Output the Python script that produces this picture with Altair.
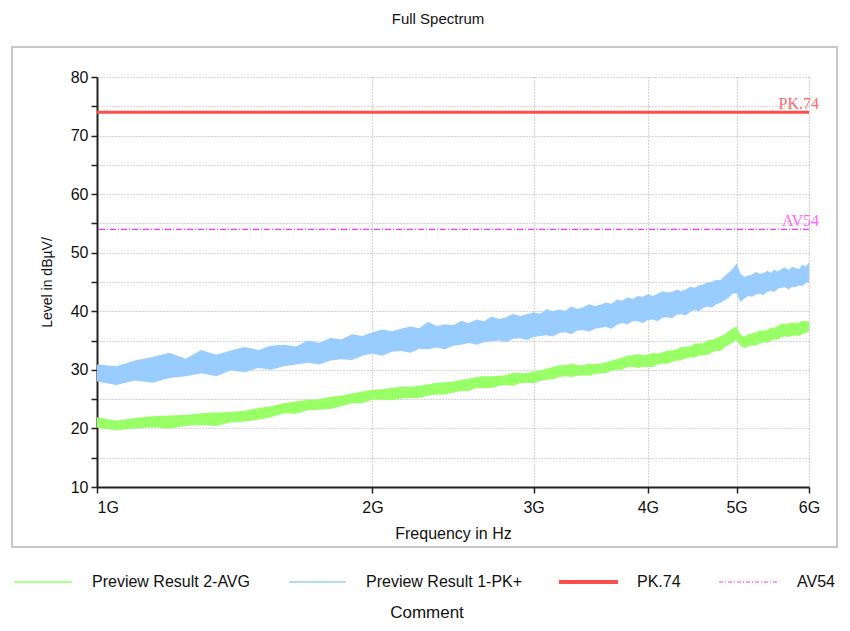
import altair as alt
import pandas as pd

# ---------------- data ----------------
freq_ghz = [1.00, 1.05, 1.10, 1.15, 1.20, 1.25, 1.30, 1.35, 1.40, 1.45,
            1.50, 1.55, 1.60, 1.65, 1.70, 1.75, 1.80, 1.85, 1.90, 1.95,
            2.00, 2.05, 2.10, 2.15, 2.20, 2.25, 2.30, 2.35, 2.40, 2.45,
            2.50, 2.55, 2.60, 2.65, 2.70, 2.75, 2.80, 2.85, 2.90, 2.95,
            3.00, 3.05, 3.10, 3.15, 3.20, 3.25, 3.30, 3.35, 3.40, 3.45,
            3.50, 3.55, 3.60, 3.65, 3.70, 3.75, 3.80, 3.85, 3.90, 3.95,
            4.00, 4.05, 4.10, 4.15, 4.20, 4.25, 4.30, 4.35, 4.40, 4.45,
            4.50, 4.55, 4.60, 4.65, 4.70, 4.75, 4.80, 4.85, 4.90, 4.95,
            5.00, 5.05, 5.10, 5.15, 5.20, 5.25, 5.30, 5.35, 5.40, 5.45,
            5.50, 5.55, 5.60, 5.65, 5.70, 5.75, 5.80, 5.85, 5.90, 5.95,
            6.00]

# Preview Result 1-PK+ (lower / upper edge of the noisy trace, dBuV)
pk_low = [28.0, 27.4, 28.2, 27.8, 28.6, 28.9, 29.4, 28.9, 29.9, 29.6,
          30.3, 30.0, 30.6, 30.9, 31.2, 30.9, 31.6, 31.8, 31.7, 32.4,
          32.8, 32.4, 33.1, 33.2, 32.9, 33.6, 33.5, 33.8, 33.5, 34.1,
          34.3, 34.6, 34.3, 34.7, 34.9, 35.0, 34.7, 35.3, 35.4, 35.1,
          35.6, 35.8, 35.9, 35.7, 36.3, 36.4, 36.1, 36.7, 36.8, 36.5,
          37.0, 37.2, 37.3, 37.0, 37.7, 38.0, 37.8, 38.3, 38.3, 38.0,
          38.5, 38.6, 38.3, 38.9, 39.0, 38.8, 39.4, 39.5, 39.3, 39.9,
          40.2, 40.0, 40.6, 40.8, 40.6, 41.2, 41.4, 41.9, 42.3, 43.0,
          43.1, 41.6, 42.2, 42.6, 42.5, 42.9, 43.0, 42.8, 43.3, 43.5,
          43.3, 43.9, 44.0, 44.1, 43.7, 44.2, 44.1, 44.4, 44.3, 44.8,
          45.0]
pk_high = [30.9, 30.6, 31.6, 32.2, 32.9, 31.9, 33.4, 32.6, 33.3, 33.9,
           33.4, 34.1, 34.3, 34.0, 35.0, 34.6, 35.5, 35.2, 36.1, 35.8,
           36.4, 36.9, 36.6, 37.0, 37.4, 37.1, 38.2, 37.5, 37.8, 37.6,
           38.4, 38.0, 38.6, 38.3, 39.1, 38.7, 39.0, 39.6, 39.2, 39.5,
           39.8, 39.6, 40.4, 40.0, 40.3, 40.1, 40.8, 40.4, 40.7, 41.2,
           40.9, 41.1, 41.5, 41.3, 42.0, 41.8, 42.4, 42.1, 42.6, 42.5,
           42.9, 42.6, 43.0, 43.4, 43.2, 43.3, 43.7, 43.4, 43.7, 44.2,
           44.0, 44.4, 44.6, 44.9, 45.0, 45.4, 45.3, 46.0, 46.6, 47.2,
           48.2, 46.4, 45.9, 46.1, 46.3, 46.7, 46.4, 46.5, 46.9, 46.6,
           47.1, 46.8, 47.2, 47.5, 47.0, 47.6, 47.4, 47.2, 48.0, 47.6,
           48.4]

# Preview Result 2-AVG (lower / upper edge of the trace, dBuV)
avg_low = [20.1, 19.7, 20.0, 20.2, 20.0, 20.4, 20.6, 20.4, 21.0, 21.2,
           21.5, 21.9, 22.6, 22.5, 23.1, 23.2, 23.3, 23.8, 24.3, 24.3,
           24.9, 24.9, 24.8, 25.1, 25.2, 25.2, 25.6, 25.8, 25.8, 26.1,
           26.4, 26.4, 26.9, 26.9, 26.9, 27.3, 27.4, 27.3, 27.7, 27.8,
           27.7, 28.1, 28.3, 28.4, 28.8, 28.9, 28.8, 29.0, 29.1, 29.0,
           29.3, 29.4, 29.4, 29.8, 30.0, 30.0, 30.5, 30.5, 30.3, 30.5,
           30.5, 30.5, 30.9, 31.1, 31.0, 31.4, 31.6, 31.6, 32.0, 32.1,
           32.1, 32.4, 32.5, 32.6, 33.0, 33.2, 33.2, 33.8, 34.3, 34.6,
           35.1, 34.1, 33.7, 34.0, 34.2, 34.1, 34.5, 34.7, 34.6, 35.0,
           35.2, 35.2, 35.6, 35.7, 35.6, 35.8, 35.9, 35.8, 36.1, 36.3,
           36.5]
avg_high = [21.9, 21.3, 21.8, 22.1, 22.2, 22.3, 22.6, 22.7, 22.8, 23.0,
            23.5, 23.8, 24.3, 24.6, 24.9, 25.0, 25.4, 25.6, 26.0, 26.3,
            26.6, 26.7, 26.9, 27.1, 27.1, 27.3, 27.5, 27.8, 27.9, 28.0,
            28.3, 28.5, 28.8, 28.9, 28.9, 29.0, 29.1, 29.5, 29.4, 29.5,
            29.7, 29.9, 30.2, 30.5, 30.8, 30.8, 31.1, 30.8, 30.8, 31.1,
            31.0, 31.1, 31.3, 31.6, 31.8, 32.1, 32.4, 32.5, 32.7, 32.5,
            32.6, 32.9, 32.8, 33.0, 33.3, 33.3, 33.5, 33.9, 33.9, 34.0,
            34.5, 34.5, 34.6, 35.1, 35.1, 35.4, 35.8, 36.0, 36.6, 37.1,
            37.4, 36.0, 35.7, 36.1, 36.2, 36.4, 36.7, 36.7, 36.8, 37.2,
            37.2, 37.5, 37.9, 37.8, 37.9, 38.1, 38.0, 38.1, 38.4, 38.3,
            38.3]

limit_names = ["PK.74", "AV54"]
limit_values = [74, 54]
limit_tags = ["PK.74", "AV54"]

legend_labels = ["Preview Result 2-AVG", "Preview Result 1-PK+", "PK.74", "AV54"]
chart_title = "Full Spectrum"
footer_text = "Comment"

y_ticks = [10, 15, 20, 25, 30, 35, 40, 45, 50, 55, 60, 65, 70, 75, 80]
x_ticks = [1, 2, 3, 4, 5, 6]

# ---------------- layout / style ----------------
W, H = 712, 410
PAD = {"left": 89, "top": 69, "right": 33, "bottom": 136}
FONT = "Liberation Sans"

C_PK = "#99CCFF"
C_AVG = "#99FF66"
C_PKLIM = "#FF4D4D"
C_AVLIM = "#FF33FF"

traces = pd.DataFrame({"f": freq_ghz, "pk_lo": pk_low, "pk_hi": pk_high,
                       "av_lo": avg_low, "av_hi": avg_high})
limits = pd.DataFrame({"name": limit_names, "value": limit_values, "tag": limit_tags})
one = pd.DataFrame({"k": [0]})

xscale = alt.Scale(type="log", domain=[1, 6], nice=False)
yscale = alt.Scale(domain=[10, 80], nice=False, zero=False)

x_axis = alt.Axis(
    values=x_ticks, labelExpr="datum.value + 'G'", title="Frequency in Hz",
    grid=True, gridDash=[1, 2], gridColor="#A8A8A8", gridWidth=1,
    domainColor="#222222", domainWidth=2, tickColor="#222222", tickWidth=1.5,
    tickSize=6, labelPadding=6, labelFontSize=16, labelFont=FONT, labelColor="#111111",
    labelFlush=False,
    labelAlign={"condition": {"test": "datum.value == 1", "value": "left"}, "value": "center"},
    titleFont=FONT, titleFontSize=16, titleFontWeight="normal", titleColor="#111111",
    titlePadding=10,
)
y_axis = alt.Axis(
    values=y_ticks, labelExpr="datum.value % 10 == 0 ? datum.label : ''",
    title="Level in dBµV/", grid=True, gridDash=[1, 2], gridColor="#A8A8A8", gridWidth=1,
    domainColor="#222222", domainWidth=2, tickColor="#222222", tickWidth=1.5,
    tickSize=6, labelPadding=3, labelFontSize=16, labelFont=FONT, labelColor="#111111",
    titleFont=FONT, titleFontSize=14, titleFontWeight="normal", titleColor="#111111",
    titlePadding=16,
)

X = alt.X("f:Q", scale=xscale, axis=x_axis)

pk_area = alt.Chart(traces).mark_area(color=C_PK, opacity=1, interpolate="linear").encode(
    x=X, y=alt.Y("pk_lo:Q", scale=yscale, axis=y_axis), y2="pk_hi:Q",
)
av_area = alt.Chart(traces).mark_area(color=C_AVG, opacity=1, interpolate="linear").encode(
    x=X, y=alt.Y("av_lo:Q", scale=yscale, axis=y_axis), y2="av_hi:Q",
)

YL = alt.Y("value:Q", scale=yscale, axis=y_axis)

pk_lim = alt.Chart(limits).transform_filter(alt.datum.name == "PK.74").mark_rule(
    color=C_PKLIM, strokeWidth=3
).encode(y=YL)
av_lim = alt.Chart(limits).transform_filter(alt.datum.name == "AV54").mark_rule(
    color=C_AVLIM, strokeWidth=1.2, strokeDash=[6, 2, 1, 2]
).encode(y=YL)

pk_tag = alt.Chart(limits).transform_filter(alt.datum.name == "PK.74").mark_text(
    font="Liberation Serif", fontSize=16, color="#FF6B6B", align="right",
    baseline="bottom", dy=0
).encode(y=YL, x=alt.value(W + 10), text="tag:N")
av_tag = alt.Chart(limits).transform_filter(alt.datum.name == "AV54").mark_text(
    font="Liberation Serif", fontSize=16, color="#FF66FF", align="right",
    baseline="bottom", dy=0
).encode(y=YL, x=alt.value(W + 10), text="tag:N")

# outer frame
frame = alt.Chart(one).mark_rect(fillOpacity=0, stroke="#C8C8C8", strokeWidth=2).encode(
    x=alt.value(-85), x2=alt.value(740), y=alt.value(-30), y2=alt.value(470)
)

title_mark = alt.Chart(one).mark_text(
    font=FONT, fontSize=15, color="#111111", align="center", baseline="middle"
).encode(x=alt.value(341), y=alt.value(-58), text=alt.value(chart_title))

footer_mark = alt.Chart(one).mark_text(
    font=FONT, fontSize=17, color="#111111", align="center", baseline="middle"
).encode(x=alt.value(330), y=alt.value(536), text=alt.value(footer_text))

# legend (drawn manually, below the frame)
LEG_Y = 505
legend_specs = [
    (legend_labels[0], C_AVG, -83, -25, -5, 1.5, None),
    (legend_labels[1], C_PK, 192, 249, 269, 1.5, None),
    (legend_labels[2], C_PKLIM, 462, 521, 540, 4, None),
    (legend_labels[3], C_AVLIM, 622, 682, 700, 1.2, [4, 2, 1, 2]),
]
legend_layers = []
for lab, col, x0, x1, tx, sw, dash in legend_specs:
    rule_kwargs = dict(color=col, strokeWidth=sw)
    if dash is not None:
        rule_kwargs["strokeDash"] = dash
    legend_layers.append(
        alt.Chart(one).mark_rule(**rule_kwargs).encode(
            x=alt.value(x0), x2=alt.value(x1), y=alt.value(LEG_Y)
        )
    )
    legend_layers.append(
        alt.Chart(one).mark_text(
            font=FONT, fontSize=16, color="#111111", align="left", baseline="middle"
        ).encode(x=alt.value(tx), y=alt.value(LEG_Y), text=alt.value(lab))
    )

chart = alt.layer(
    frame, pk_area, av_area, pk_lim, av_lim, pk_tag, av_tag,
    title_mark, footer_mark, *legend_layers
).properties(
    width=W, height=H, padding=PAD, autosize=alt.AutoSizeParams(type="none"),
    background="white",
).configure_view(stroke=None)

chart.save("out.html", embed_options={"renderer": "svg", "actions": False})
